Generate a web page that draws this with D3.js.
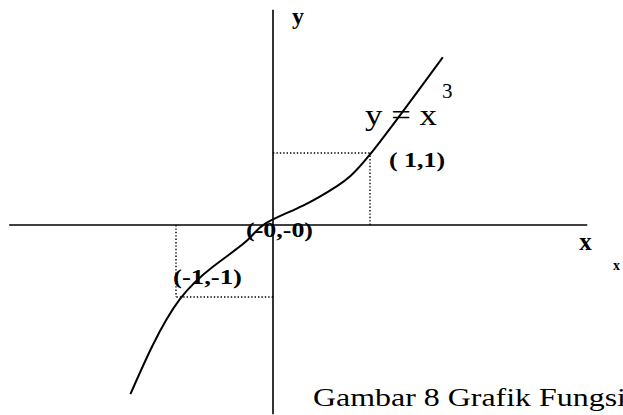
<!DOCTYPE html>
<html>
<head>
<meta charset="utf-8">
<script src="https://cdn.jsdelivr.net/npm/d3@7"></script>
<style>
  body { margin: 0; background: #fff; overflow: hidden; }
</style>
</head>
<body>
<div id="chart"></div>
<script>
const curveX = [-1.47, -1.24, -0.96, -0.62, -0.27, -0.08, 0.31, 0.66, 1.0, 1.75];
const curveY = [-2.35, -1.67, -1.03, -0.58, -0.22, 0.02, 0.27, 0.54, 0.98, 2.33];

// marked points and their labels
const pointX = [1, -1];
const pointY = [1, -1];
const pointLabels = ["( 1,1)", "(-1,-1)"];
const originLabel = "(-0,-0)";

// extent of the two axis lines
const axisXRange = [-2.72, 3.24];
const axisYRange = [-2.63, 2.99];

const width = 623;
const height = 415;

const svg = d3.select("#chart")
  .append("svg")
    .attr("width", width)
    .attr("height", height);

const x = d3.scaleLinear().domain([-1, 1]).range([176, 370]);
const y = d3.scaleLinear().domain([-1, 1]).range([297, 153]);

const serif = "'Liberation Serif', 'Times New Roman', serif";

// axes
svg.append("line")
  .attr("x1", x(axisXRange[0]))
  .attr("x2", x(axisXRange[1]))
  .attr("y1", y(0))
  .attr("y2", y(0))
  .attr("stroke", "black")
  .attr("stroke-width", 1.6);

svg.append("line")
  .attr("x1", x(0))
  .attr("x2", x(0))
  .attr("y1", y(axisYRange[0]))
  .attr("y2", y(axisYRange[1]))
  .attr("stroke", "black")
  .attr("stroke-width", 1.6);

// dotted guides to the marked points
pointX.forEach(function(px, i) {
  svg.append("line")
    .attr("x1", x(0)).attr("x2", x(px))
    .attr("y1", y(pointY[i])).attr("y2", y(pointY[i]))
    .attr("stroke", "black")
    .attr("stroke-width", 1.4)
    .attr("stroke-dasharray", "1.4,2");
  svg.append("line")
    .attr("x1", x(px)).attr("x2", x(px))
    .attr("y1", y(0)).attr("y2", y(pointY[i]))
    .attr("stroke", "black")
    .attr("stroke-width", 1.4)
    .attr("stroke-dasharray", "1.4,2");
});

// the curve
const line = d3.line()
  .x(function(d) { return x(d[0]); })
  .y(function(d) { return y(d[1]); })
  .curve(d3.curveNatural);

svg.append("path")
  .datum(d3.zip(curveX, curveY))
  .attr("d", line)
  .attr("fill", "none")
  .attr("stroke", "black")
  .attr("stroke-width", 2);

// axis names
svg.append("text")
  .attr("x", x(0) + 19)
  .attr("y", 24)
  .style("font-family", serif)
  .style("font-weight", "bold")
  .style("font-size", "24px")
  .text("y");

svg.append("text")
  .attr("x", x(axisXRange[1]) - 8)
  .attr("y", y(0) + 25)
  .style("font-family", serif)
  .style("font-weight", "bold")
  .style("font-size", "25px")
  .text("x");

svg.append("text")
  .attr("x", 613)
  .attr("y", 270)
  .style("font-family", serif)
  .style("font-weight", "bold")
  .style("font-size", "14px")
  .text("x");

// function label
svg.append("text")
  .attr("x", 365)
  .attr("y", 125)
  .attr("textLength", 72)
  .attr("lengthAdjust", "spacingAndGlyphs")
  .style("font-family", serif)
  .style("font-size", "29px")
  .text("y = x");

svg.append("text")
  .attr("x", 442)
  .attr("y", 98)
  .style("font-family", serif)
  .style("font-size", "21px")
  .text("3");

// point labels
svg.append("text")
  .attr("x", x(pointX[0]) + 19)
  .attr("y", y(pointY[0]) + 14)
  .attr("textLength", 56)
  .attr("lengthAdjust", "spacingAndGlyphs")
  .style("font-family", serif)
  .style("font-weight", "bold")
  .style("font-size", "20px")
  .text(pointLabels[0]);

svg.append("text")
  .attr("x", x(pointX[1]) - 3)
  .attr("y", y(pointY[1]) - 13)
  .attr("textLength", 69)
  .attr("lengthAdjust", "spacingAndGlyphs")
  .style("font-family", serif)
  .style("font-weight", "bold")
  .style("font-size", "20px")
  .text(pointLabels[1]);

svg.append("text")
  .attr("x", x(0) - 27)
  .attr("y", y(0) + 12)
  .attr("textLength", 67)
  .attr("lengthAdjust", "spacingAndGlyphs")
  .style("font-family", serif)
  .style("font-weight", "bold")
  .style("font-size", "20px")
  .text(originLabel);

// caption (runs past the right edge as in the original)
svg.append("text")
  .attr("x", 313)
  .attr("y", 406)
  .attr("textLength", 313)
  .attr("lengthAdjust", "spacingAndGlyphs")
  .style("font-family", serif)
  .style("font-size", "26px")
  .text("Gambar 8 Grafik Fungsi");
</script>
</body>
</html>
